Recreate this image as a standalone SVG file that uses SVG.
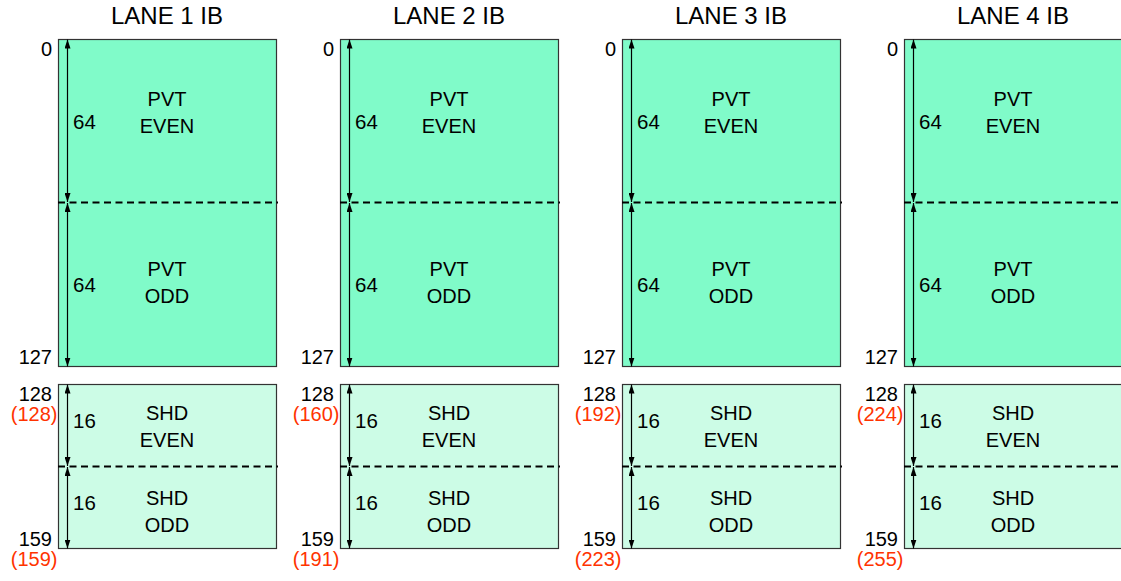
<svg xmlns="http://www.w3.org/2000/svg" width="1121" height="581" viewBox="0 0 1121 581">
<defs>
<marker id="ah" viewBox="0 0 9 6" refX="9" refY="3" markerWidth="9" markerHeight="6" markerUnits="userSpaceOnUse" orient="auto-start-reverse">
<path d="M0,0 L9,3 L0,6 z" fill="#000"/>
</marker>
<style>
text{font-family:"Liberation Sans",Arial,Helvetica,sans-serif;fill:#000}
.title{font-size:24px;text-anchor:middle}
.lbl{font-size:20px;text-anchor:middle}
.num{font-size:20px;text-anchor:end}
.red{font-size:20px;text-anchor:end;fill:#FF3300}
.dim{font-size:20.5px}
.pvt{fill:#80FBC9;stroke:#333;stroke-width:1.2}
.shd{fill:#CCFCE6;stroke:#333;stroke-width:1.2}
.dash{stroke:#000;stroke-width:2;stroke-dasharray:7 4.5;fill:none}
.arr{stroke:#000;stroke-width:1.2;fill:none;marker-start:url(#ah);marker-end:url(#ah)}
</style>
</defs>

<g id="lane1" transform="translate(0,0)">
<text class="title" x="167" y="24">LANE 1 IB</text>
<g id="lane1-pvt">
<rect class="pvt" x="58.5" y="39.5" width="218" height="327"/>
<text class="lbl" x="167" y="106">PVT</text><text class="lbl" x="167" y="133">EVEN</text>
<text class="lbl" x="167" y="276">PVT</text><text class="lbl" x="167" y="303">ODD</text>
<text class="num" x="52" y="56">0</text>
<text class="num" x="52" y="364">127</text>
</g>
<g id="lane1-shd">
<rect class="shd" x="58.5" y="384.5" width="218" height="164"/>
<text class="lbl" x="167" y="420">SHD</text><text class="lbl" x="167" y="447">EVEN</text>
<text class="lbl" x="167" y="505">SHD</text><text class="lbl" x="167" y="532">ODD</text>
<text class="num" x="52" y="401">128</text>
<text class="red" x="57.5" y="421">(128)</text>
<text class="num" x="52" y="546">159</text>
<text class="red" x="57.5" y="566">(159)</text>
</g>
</g>

<g id="lane2" transform="translate(282,0)">
<text class="title" x="167" y="24">LANE 2 IB</text>
<g id="lane2-pvt">
<rect class="pvt" x="58.5" y="39.5" width="218" height="327"/>
<text class="lbl" x="167" y="106">PVT</text><text class="lbl" x="167" y="133">EVEN</text>
<text class="lbl" x="167" y="276">PVT</text><text class="lbl" x="167" y="303">ODD</text>
<text class="num" x="52" y="56">0</text>
<text class="num" x="52" y="364">127</text>
</g>
<g id="lane2-shd">
<rect class="shd" x="58.5" y="384.5" width="218" height="164"/>
<text class="lbl" x="167" y="420">SHD</text><text class="lbl" x="167" y="447">EVEN</text>
<text class="lbl" x="167" y="505">SHD</text><text class="lbl" x="167" y="532">ODD</text>
<text class="num" x="52" y="401">128</text>
<text class="red" x="57.5" y="421">(160)</text>
<text class="num" x="52" y="546">159</text>
<text class="red" x="57.5" y="566">(191)</text>
</g>
</g>

<g id="lane3" transform="translate(564,0)">
<text class="title" x="167" y="24">LANE 3 IB</text>
<g id="lane3-pvt">
<rect class="pvt" x="58.5" y="39.5" width="218" height="327"/>
<text class="lbl" x="167" y="106">PVT</text><text class="lbl" x="167" y="133">EVEN</text>
<text class="lbl" x="167" y="276">PVT</text><text class="lbl" x="167" y="303">ODD</text>
<text class="num" x="52" y="56">0</text>
<text class="num" x="52" y="364">127</text>
</g>
<g id="lane3-shd">
<rect class="shd" x="58.5" y="384.5" width="218" height="164"/>
<text class="lbl" x="167" y="420">SHD</text><text class="lbl" x="167" y="447">EVEN</text>
<text class="lbl" x="167" y="505">SHD</text><text class="lbl" x="167" y="532">ODD</text>
<text class="num" x="52" y="401">128</text>
<text class="red" x="57.5" y="421">(192)</text>
<text class="num" x="52" y="546">159</text>
<text class="red" x="57.5" y="566">(223)</text>
</g>
</g>

<g id="lane4" transform="translate(846,0)">
<text class="title" x="167" y="24">LANE 4 IB</text>
<g id="lane4-pvt">
<rect class="pvt" x="58.5" y="39.5" width="218" height="327"/>
<text class="lbl" x="167" y="106">PVT</text><text class="lbl" x="167" y="133">EVEN</text>
<text class="lbl" x="167" y="276">PVT</text><text class="lbl" x="167" y="303">ODD</text>
<text class="num" x="52" y="56">0</text>
<text class="num" x="52" y="364">127</text>
</g>
<g id="lane4-shd">
<rect class="shd" x="58.5" y="384.5" width="218" height="164"/>
<text class="lbl" x="167" y="420">SHD</text><text class="lbl" x="167" y="447">EVEN</text>
<text class="lbl" x="167" y="505">SHD</text><text class="lbl" x="167" y="532">ODD</text>
<text class="num" x="52" y="401">128</text>
<text class="red" x="57.5" y="421">(224)</text>
<text class="num" x="52" y="546">159</text>
<text class="red" x="57.5" y="566">(255)</text>
</g>
</g>

<g id="connectors">
<g transform="translate(0,0)">
<line class="dash" x1="58" y1="202.5" x2="278" y2="202.5"/>
<line class="dash" x1="58" y1="466.5" x2="278" y2="466.5"/>
<line class="arr" x1="67.5" y1="39.5" x2="67.5" y2="202"/>
<line class="arr" x1="67.5" y1="203" x2="67.5" y2="366.5"/>
<line class="arr" x1="67.5" y1="384.5" x2="67.5" y2="466"/>
<line class="arr" x1="67.5" y1="467" x2="67.5" y2="548.5"/>
<text class="dim" x="73" y="129">64</text>
<text class="dim" x="73" y="292">64</text>
<text class="dim" x="73" y="428">16</text>
<text class="dim" x="73" y="510">16</text>
</g>
<g transform="translate(282,0)">
<line class="dash" x1="58" y1="202.5" x2="278" y2="202.5"/>
<line class="dash" x1="58" y1="466.5" x2="278" y2="466.5"/>
<line class="arr" x1="67.5" y1="39.5" x2="67.5" y2="202"/>
<line class="arr" x1="67.5" y1="203" x2="67.5" y2="366.5"/>
<line class="arr" x1="67.5" y1="384.5" x2="67.5" y2="466"/>
<line class="arr" x1="67.5" y1="467" x2="67.5" y2="548.5"/>
<text class="dim" x="73" y="129">64</text>
<text class="dim" x="73" y="292">64</text>
<text class="dim" x="73" y="428">16</text>
<text class="dim" x="73" y="510">16</text>
</g>
<g transform="translate(564,0)">
<line class="dash" x1="58" y1="202.5" x2="278" y2="202.5"/>
<line class="dash" x1="58" y1="466.5" x2="278" y2="466.5"/>
<line class="arr" x1="67.5" y1="39.5" x2="67.5" y2="202"/>
<line class="arr" x1="67.5" y1="203" x2="67.5" y2="366.5"/>
<line class="arr" x1="67.5" y1="384.5" x2="67.5" y2="466"/>
<line class="arr" x1="67.5" y1="467" x2="67.5" y2="548.5"/>
<text class="dim" x="73" y="129">64</text>
<text class="dim" x="73" y="292">64</text>
<text class="dim" x="73" y="428">16</text>
<text class="dim" x="73" y="510">16</text>
</g>
<g transform="translate(846,0)">
<line class="dash" x1="58" y1="202.5" x2="278" y2="202.5"/>
<line class="dash" x1="58" y1="466.5" x2="278" y2="466.5"/>
<line class="arr" x1="67.5" y1="39.5" x2="67.5" y2="202"/>
<line class="arr" x1="67.5" y1="203" x2="67.5" y2="366.5"/>
<line class="arr" x1="67.5" y1="384.5" x2="67.5" y2="466"/>
<line class="arr" x1="67.5" y1="467" x2="67.5" y2="548.5"/>
<text class="dim" x="73" y="129">64</text>
<text class="dim" x="73" y="292">64</text>
<text class="dim" x="73" y="428">16</text>
<text class="dim" x="73" y="510">16</text>
</g>
</g>
</svg>
